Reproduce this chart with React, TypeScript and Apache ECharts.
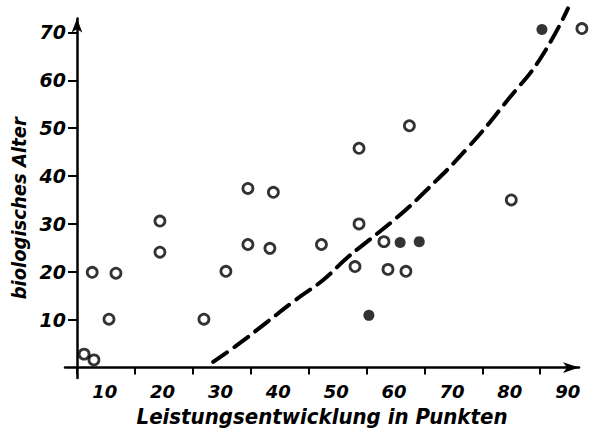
import React, { useEffect, useRef } from "react";
import * as echarts from "echarts";

// x: Leistungsentwicklung (Punkte), y: biologisches Alter
const openX = [11.2, 12.9, 12.6, 16.7, 15.5, 24.3, 24.3, 31.9, 35.7, 39.5, 43.3, 39.5, 43.9, 52.2, 58.7, 67.4, 58.7, 58.0, 63.0, 63.7, 66.8, 85.0, 97.2];
const openY = [2.8, 1.6, 19.9, 19.7, 10.1, 30.6, 24.1, 10.1, 20.1, 25.7, 24.9, 37.4, 36.6, 25.7, 45.8, 50.5, 30.0, 21.1, 26.3, 20.5, 20.1, 35.0, 70.8];
const filledX = [60.4, 65.8, 69.1, 90.3];
const filledY = [10.9, 26.1, 26.3, 70.6];
const curveX = [33.5, 38.2, 42.8, 47.7, 52.5, 56.6, 60.1, 65.3, 69.8, 77.4, 84.8, 90.0, 94.8];
const curveY = [1.2, 5.2, 9.5, 14.1, 18.3, 22.9, 26.3, 31.4, 36.4, 45.8, 56.5, 64.5, 75.0];
const xTicks = [10, 20, 30, 40, 50, 60, 70, 80, 90];
const yTicks = [10, 20, 30, 40, 50, 60, 70];
const xTitle = "Leistungsentwicklung in Punkten";
const yTitle = "biologisches Alter";

const labelFont = '"DejaVu Sans", sans-serif';
const titleFont = '"DejaVu Sans Condensed", "DejaVu Sans", sans-serif';

export default function App() {
  const ref = useRef<HTMLDivElement>(null);
  useEffect(() => {
    if (!ref.current) return;
    const chart = echarts.init(ref.current, undefined, { renderer: "svg" });
    const zip = (xs: number[], ys: number[]) => xs.map((x, i) => [x, ys[i]]);
    chart.setOption({
      animation: false,
      backgroundColor: "#ffffff",
      grid: { left: 65, right: 13, top: 18.5, bottom: 40, containLabel: false },
      xAxis: {
        type: "value",
        min: 7.9,
        max: 96.7,
        splitLine: { show: false },
        axisLine: {
          show: true,
          onZero: true,
          symbol: ["none", "arrow"],
          symbolSize: [8, 16],
          lineStyle: { color: "#000", width: 2.5 },
        },
        axisTick: { show: true, length: 7, customValues: xTicks, lineStyle: { color: "#000", width: 2 } },
        axisLabel: {
          customValues: xTicks,
          align: "left",
          padding: [0, 0, 0, 15],
          margin: 4,
          color: "#000",
          fontFamily: labelFont,
          fontSize: 18,
          fontWeight: "bold",
          fontStyle: "italic",
        },
        name: xTitle,
        nameLocation: "middle",
        nameGap: 26,
        nameTextStyle: {
          color: "#000",
          fontFamily: titleFont,
          fontSize: 22,
          fontWeight: "bold",
          fontStyle: "italic",
        },
      },
      yAxis: {
        type: "value",
        min: -2.2,
        max: 72.9,
        offset: -12,
        splitLine: { show: false },
        axisLine: {
          show: true,
          onZero: false,
          symbol: ["none", "arrow"],
          symbolSize: [8, 14],
          lineStyle: { color: "#000", width: 2.5 },
        },
        axisTick: { show: true, length: 9, customValues: yTicks, lineStyle: { color: "#000", width: 2 } },
        axisLabel: {
          customValues: yTicks,
          margin: 11,
          color: "#000",
          fontFamily: labelFont,
          fontSize: 19,
          fontWeight: "bold",
          fontStyle: "italic",
        },
        name: yTitle,
        nameLocation: "middle",
        nameRotate: 90,
        nameGap: 45,
        nameTextStyle: {
          color: "#000",
          fontFamily: titleFont,
          fontSize: 20,
          fontWeight: "bold",
          fontStyle: "italic",
          padding: [0, 20, 0, 0],
        },
      },
      series: [
        {
          type: "line",
          data: zip(curveX, curveY),
          smooth: true,
          symbol: "none",
          clip: false,
          lineStyle: { color: "#000", width: 4, type: [17, 9], cap: "round" },
          z: 1,
        },
        {
          type: "scatter",
          data: zip(openX, openY),
          symbol: "circle",
          symbolSize: 10,
          clip: false,
          itemStyle: { color: "#fff", borderColor: "#000", borderWidth: 2.8 },
          z: 3,
        },
        {
          type: "scatter",
          data: zip(filledX, filledY),
          symbol: "circle",
          symbolSize: 11,
          clip: false,
          itemStyle: { color: "#000" },
          z: 3,
        },
      ],
    });
    return () => chart.dispose();
  }, []);
  return (
    <div
      ref={ref}
      style={{ position: "fixed", left: 0, top: 0, width: 592, height: 432, background: "#fff" }}
    />
  );
}
